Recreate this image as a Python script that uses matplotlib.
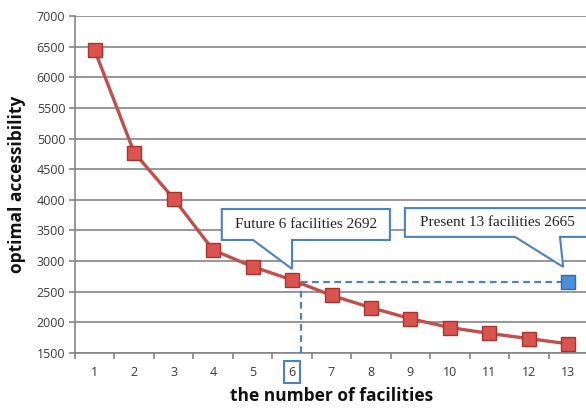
import numpy as np
import matplotlib
matplotlib.use("Agg")
import matplotlib.pyplot as plt
from matplotlib.patches import Polygon

# ---- data ----
facilities = [1, 2, 3, 4, 5, 6, 7, 8, 9, 10, 11, 12, 13]
accessibility = [6440, 4770, 4020, 3180, 2910, 2692, 2440, 2240, 2060, 1915, 1820, 1735, 1650]
present_n = 13
present_value = 2665
future_n = 6
future_value = 2692
future_label = "Future 6 facilities 2692"
present_label = "Present 13 facilities 2665"
y_ticks = [1500, 2000, 2500, 3000, 3500, 4000, 4500, 5000, 5500, 6000, 6500, 7000]
x_label = "the number of facilities"
y_label = "optimal accessibility"

LINE_RED = "#C0504D"
MARK_RED = "#D9534F"
EDGE_RED = "#A8332F"
BLUE = "#4F81BD"
GRID = "#858585"
TXT = "#3A3A3A"

fig = plt.figure(figsize=(5.86, 4.08), dpi=100)
ax = fig.add_axes([75/586, 55/408, 513/586, 337/408])

ax.set_xlim(0.5, 13.5)
ax.set_ylim(1500, 7000)
ax.set_yticks(y_ticks)
ax.set_yticklabels([str(v) for v in y_ticks], fontsize=9, color=TXT, family="Open Sans")
ax.yaxis.grid(True, color=GRID, linewidth=1.2)
ax.set_axisbelow(True)

# x ticks: labels at category centres, tick marks at boundaries
ax.set_xticks(facilities)
ax.set_xticklabels([str(v) for v in facilities], fontsize=9, color=TXT, family="Open Sans")
ax.set_xticks(np.arange(0.5, 13.6, 1.0), minor=True)
ax.tick_params(axis="x", which="major", length=0, pad=9)
ax.tick_params(axis="x", which="minor", length=4, color=GRID, width=1.2, direction="out")
ax.tick_params(axis="y", length=4, color=GRID, width=1.2, pad=3)

for s in ["top", "right"]:
    ax.spines[s].set_visible(False)
for s in ["left", "bottom"]:
    ax.spines[s].set_color(GRID)
    ax.spines[s].set_linewidth(1.2)

# main series
ax.plot(facilities, accessibility, color=LINE_RED, linewidth=2.4, marker="s",
        markersize=9.5, markerfacecolor=MARK_RED, markeredgecolor=EDGE_RED,
        markeredgewidth=1.0, zorder=4, clip_on=False)

# dashed guide lines
x_cross = float(np.interp(-present_value, -np.array(accessibility), facilities)) + 0.12
ax.plot([x_cross, present_n], [present_value, present_value], color=BLUE,
        linestyle=(0, (3, 2)), linewidth=1.6, zorder=3)
ax.plot([x_cross, x_cross], [1500, present_value], color=BLUE,
        linestyle=(0, (3, 2)), linewidth=1.6, zorder=3, clip_on=False)

# present marker
ax.plot([present_n], [present_value], marker="s", markersize=9.5,
        markerfacecolor="#4A8FDB", markeredgecolor="#3568A8", markeredgewidth=1.0,
        zorder=6, clip_on=False)


def callout(x0, x1, y0, y1, bx0, bx1, tip, text):
    pts = [(x0, y1), (x1, y1), (x1, y0), (bx1, y0), tip, (bx0, y0), (x0, y0)]
    poly = Polygon(pts, closed=True, facecolor="white", edgecolor=BLUE,
                   linewidth=1.5, zorder=7, clip_on=False, joinstyle="miter")
    ax.add_patch(poly)
    ax.text((x0 + min(x1, 13.55)) / 2, (y0 + y1) / 2, text, ha="center", va="center",
            fontsize=11, family="Liberation Serif", color="#222222", zorder=8)


callout(4.22, 8.48, 3345, 3850, 5.01, future_n, (future_n, future_value + 180), future_label)
callout(8.86, 13.9, 3395, 3865, 11.65, 12.79, (present_n - 0.13, present_value + 240), present_label)

# box around tick label "6"
for lab in ax.get_xticklabels():
    if lab.get_text() == str(future_n):
        lab.set_bbox(dict(facecolor="white", edgecolor=BLUE, linewidth=1.5,
                          boxstyle="square,pad=0.35"))

ax.set_xlabel(x_label, fontsize=12.5, fontweight="bold", family="Open Sans",
              color="#111111", labelpad=6)
ax.set_ylabel(y_label, fontsize=12.5, fontweight="bold", family="Open Sans",
              color="#111111", labelpad=8)

fig.savefig("out.png", dpi=100)
